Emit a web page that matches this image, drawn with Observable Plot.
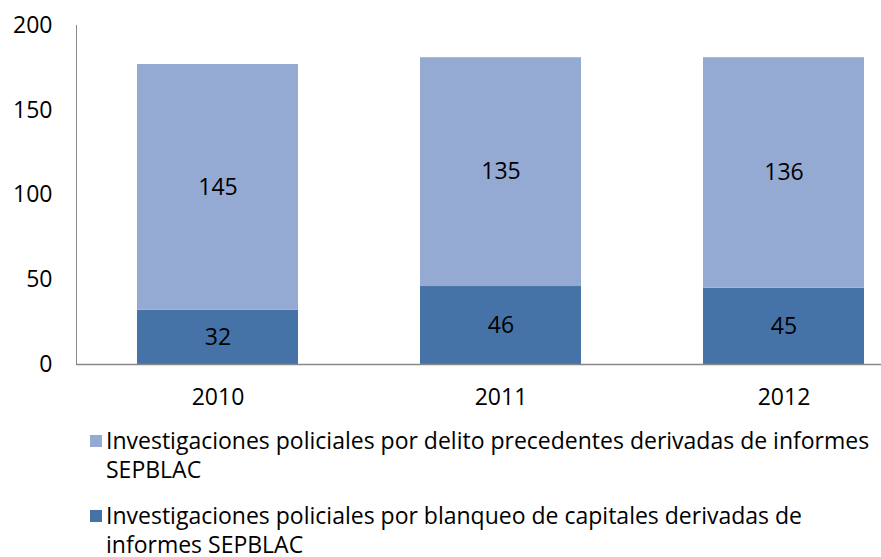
<!DOCTYPE html>
<html><head><meta charset="utf-8">
<script src="https://cdn.jsdelivr.net/npm/d3@7"></script>
<script src="https://cdn.jsdelivr.net/npm/@observablehq/plot@0.6"></script>
<style>
body{margin:0;background:#fff;font-family:"Open Sans",sans-serif;}
#wrap{position:relative;width:881px;height:557px;}
#legend{position:absolute;left:90px;top:426px;font-size:23px;color:#000;line-height:29px;white-space:nowrap;}
.item{display:flex;align-items:flex-start;margin-bottom:17px;}
.sw{width:12px;height:12px;margin-top:9px;margin-right:4px;flex:none;}
</style></head>
<body><div id="wrap"><div id="chart"></div><div id="legend"></div></div>
<script>
const years = ["2010", "2011", "2012"];
const seriesNames = [
  "Investigaciones policiales por blanqueo de capitales derivadas de informes SEPBLAC",
  "Investigaciones policiales por delito precedentes derivadas de informes SEPBLAC"
];
const blanqueo = [32, 46, 45];
const delito = [145, 135, 136];
const colors = ["#4573A7", "#95AAD2"];
const yTicks = [0, 50, 100, 150, 200];
const legendLines = [
  ["Investigaciones policiales por delito precedentes derivadas de informes", "SEPBLAC"],
  ["Investigaciones policiales por blanqueo de capitales derivadas de", "informes SEPBLAC"]
];

const data = [];
years.forEach((y, i) => {
  data.push({year: y, series: seriesNames[0], value: blanqueo[i]});
  data.push({year: y, series: seriesNames[1], value: delito[i]});
});

const chart = Plot.plot({
  width: 881,
  height: 420,
  marginLeft: 76,
  marginRight: 0,
  marginTop: 25,
  marginBottom: 56,
  style: {fontFamily: "Open Sans, sans-serif", fontSize: "23px", color: "#000", background: "#fff"},
  x: {domain: years, range: [76, 925], paddingInner: 0.43, paddingOuter: 0.215, label: null},
  y: {domain: [0, 200], label: null},
  color: {domain: seriesNames, range: colors},
  marks: [
    Plot.barY(data, Plot.stackY({x: "year", y: "value", fill: "series", order: seriesNames})),
    Plot.text(data, Plot.stackY({x: "year", y: "value", z: "series", order: seriesNames, text: d => String(d.value), fill: "#000", fontSize: 23})),
    Plot.frame({anchor: "left", stroke: "#888"}),
    Plot.ruleY([0], {stroke: "#888", strokeWidth: 1.5}),
    Plot.axisY({ticks: yTicks, tickSize: 0, tickPadding: 24, label: null, fontSize: 23}),
    Plot.axisX({tickSize: 0, tickPadding: 24, label: null, fontSize: 23})
  ]
});
document.getElementById("chart").appendChild(chart);

const leg = document.getElementById("legend");
[1, 0].forEach((si, k) => {
  const it = document.createElement("div");
  it.className = "item";
  const sw = document.createElement("div");
  sw.className = "sw";
  sw.style.background = colors[si];
  const tx = document.createElement("div");
  tx.innerHTML = legendLines[k].join("<br>");
  it.appendChild(sw); it.appendChild(tx);
  leg.appendChild(it);
});
</script></body></html>
